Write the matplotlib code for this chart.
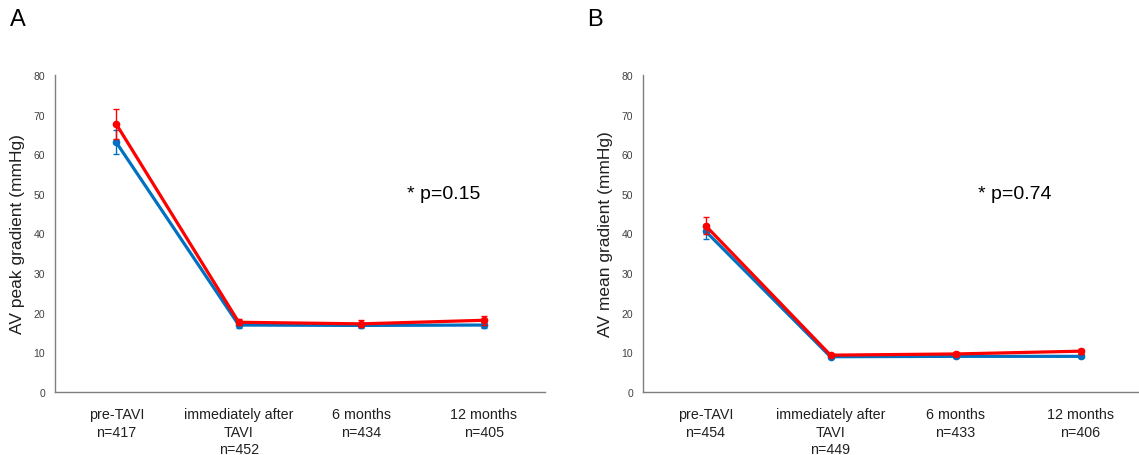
import matplotlib
matplotlib.use("Agg")
import matplotlib.pyplot as plt
import numpy as np

plt.rcParams['font.family'] = ['Liberation Sans', 'DejaVu Sans']

categories = ["pre-TAVI", "immediately after\nTAVI", "6 months", "12 months"]
n_a = ["n=417", "n=452", "n=434", "n=405"]
n_b = ["n=454", "n=449", "n=433", "n=406"]

peak_red = [67.6, 17.6, 17.2, 18.1]
peak_red_err = [3.8, 0.8, 0.9, 1.2]
peak_blue = [63.0, 16.9, 16.8, 16.9]
peak_blue_err = [3.0, 0.7, 0.7, 0.8]

mean_red = [42.0, 9.3, 9.6, 10.3]
mean_red_err = [2.1, 0.4, 0.5, 0.6]
mean_blue = [40.6, 8.9, 9.0, 9.0]
mean_blue_err = [1.9, 0.4, 0.4, 0.4]

yticks = [0, 10, 20, 30, 40, 50, 60, 70, 80]

RED = "#FF0000"
BLUE = "#0070C0"

W, H = 1139, 456
fig = plt.figure(figsize=(W / 100, H / 100), dpi=100)

def px_axes(x0, x1, ytop, ybot):
    return fig.add_axes([x0 / W, (H - ybot) / H, (x1 - x0) / W, (ybot - ytop) / H])

def panel(ax, red, red_err, blue, blue_err, ns, ylabel, ptext, px):
    x = np.arange(len(categories))
    for vals, errs, col, z in [(blue, blue_err, BLUE, 3), (red, red_err, RED, 4)]:
        ax.errorbar(x, vals, yerr=errs, color=col, lw=2.3, marker='o', ms=4.5,
                    elinewidth=1.0, capsize=2.5, capthick=1.0, zorder=z)
    ax.set_xlim(-0.5, len(categories) - 0.5)
    ax.set_ylim(0, 80)
    ax.set_yticks(yticks)
    ax.set_yticklabels([str(t) for t in yticks], fontsize=7.5, color="#404040")
    ax.set_xticks(x)
    ax.set_xticklabels([c + "\n" + n for c, n in zip(categories, ns)],
                       fontsize=10.3, color="#202020", linespacing=1.3)
    ax.tick_params(axis='both', length=0)
    ax.tick_params(axis='y', pad=7)
    ax.tick_params(axis='x', pad=11)
    for s in ['top', 'right']:
        ax.spines[s].set_visible(False)
    for s in ['left', 'bottom']:
        ax.spines[s].set_color("#7F7F7F")
        ax.spines[s].set_linewidth(1.0)
    ax.set_ylabel(ylabel, fontsize=12.5, color="#202020", labelpad=6)
    ax.text(px, 50.0, ptext, fontsize=14, color="black", ha='left', va='center',
            transform=ax.transData)

axA = px_axes(55, 545, 76, 393)
panel(axA, peak_red, peak_red_err, peak_blue, peak_blue_err, n_a,
      "AV peak gradient (mmHg)", "* p=0.15", 2.37)
axB = px_axes(643, 1143, 76, 393)
panel(axB, mean_red, mean_red_err, mean_blue, mean_blue_err, n_b,
      "AV mean gradient (mmHg)", "* p=0.74", 2.18)

fig.text(10 / W, 1 - 20 / H, "A", fontsize=17, ha='left', va='center')
fig.text(587 / W, 1 - 20 / H, "B", fontsize=17, ha='left', va='center')

fig.savefig("out.png", dpi=100)
